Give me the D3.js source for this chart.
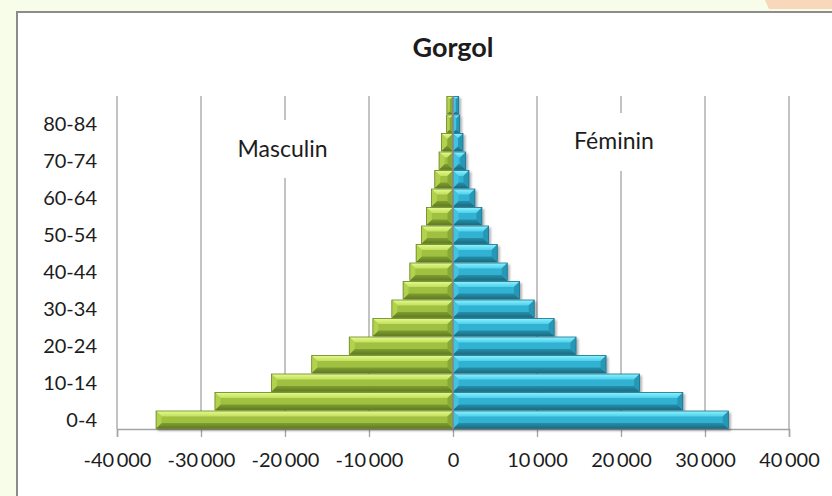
<!DOCTYPE html>
<html>
<head>
<meta charset="utf-8">
<script src="https://cdn.jsdelivr.net/npm/d3@7"></script>
<style>
    html, body { margin: 0; padding: 0; background: #f7fde8; }
    svg { display: block; }
    text { font-family: Lato, "Open Sans", sans-serif; fill: #1c1c1c; }
</style>
</head>
<body>
<div id="chart"></div>
<script>
/*=====================================================================
======================================================================*/
var ageGroups = ["0-4", "5-9", "10-14", "15-19", "20-24", "25-29", "30-34", "35-39", "40-44",
    "45-49", "50-54", "55-59", "60-64", "65-69", "70-74", "75-79", "80-84", "85+"];

var masculin = [-35350, -28340, -21620, -16820, -12350, -9540, -7280, -5940, -5140,
    -4390, -3750, -3160, -2570, -2170, -1660, -1380, -760, -730];

var feminin = [32780, 27360, 22210, 18220, 14650, 12040, 9670, 7920, 6460,
    5270, 4240, 3440, 2610, 1900, 1510, 1190, 800, 680];

var xTicks = [-40000, -30000, -20000, -10000, 0, 10000, 20000, 30000, 40000];
var yTickLabels = ["0-4", "10-14", "20-24", "30-34", "40-44", "50-54", "60-64", "70-74", "80-84"];

var titleText = "Gorgol";
var seriesNames = ["Masculin", "Féminin"];

/**************************************
chart dimensions 
***************************************/
var width = 832,
    height = 496;
var plot = { left: 117, right: 789, top: 96, bottom: 429 };

var gridColor = "#a3a3a3";

// bevel colours for the two series
var palettes = {
    m: { top0: "#e4fb8e", top1: "#c3df5c", face: "#9fc03f", bot0: "#7f9e31", bot1: "#5f7a20",
         left: "#b2d24d", right: "#87a834", edge: "#6a8528" },
    f: { top0: "#8af2ff", top1: "#4fd0ec", face: "#31b2d2", bot0: "#2690ad", bot1: "#1a6a80",
         left: "#42c3e0", right: "#2797b5", edge: "#1f7089" }
};

var fr = d3.formatLocale({ decimal: ",", thousands: "\u2009", grouping: [3], currency: ["", ""], minus: "-" });
var fmt = fr.format(",d");

/*=====================================================================
 svg + background
======================================================================*/
var svg = d3.select("#chart").append("svg")
    .attr("width", width)
    .attr("height", height);

var defs = svg.append("defs");

["m", "f"].forEach(function (k) {
    var p = palettes[k];
    var g1 = defs.append("linearGradient").attr("id", "top-" + k)
        .attr("x1", 0).attr("y1", 0).attr("x2", 0).attr("y2", 1);
    g1.append("stop").attr("offset", "0%").attr("stop-color", p.top0);
    g1.append("stop").attr("offset", "100%").attr("stop-color", p.top1);
    var g2 = defs.append("linearGradient").attr("id", "bot-" + k)
        .attr("x1", 0).attr("y1", 0).attr("x2", 0).attr("y2", 1);
    g2.append("stop").attr("offset", "0%").attr("stop-color", p.bot0);
    g2.append("stop").attr("offset", "100%").attr("stop-color", p.bot1);
});

defs.append("filter").attr("id", "shadow")
    .attr("x", "-10%").attr("y", "-20%").attr("width", "130%").attr("height", "160%")
    .append("feDropShadow")
    .attr("dx", 2).attr("dy", 2).attr("stdDeviation", 1.2)
    .attr("flood-color", "#000").attr("flood-opacity", 0.3);

// peach corner of the page behind
svg.append("path")
    .attr("d", "M765,0 L832,0 L832,9 L769,9 Z")
    .attr("fill", "#f8d7bb");

// chart area with its grey frame
svg.append("rect")
    .attr("x", 17).attr("y", 12)
    .attr("width", width).attr("height", height)
    .attr("fill", "#fff")
    .attr("stroke", "#8c8c8c")
    .attr("stroke-width", 2);

/*=====================================================================
 scales
======================================================================*/
var x = d3.scaleLinear()
    .domain([-40000, 40000])
    .range([plot.left, plot.right]);

var y = d3.scaleBand()
    .domain(ageGroups)
    .range([plot.bottom, plot.top])
    .paddingInner(0);

/*=====================================================================
 gridlines + axes
======================================================================*/
svg.append("g")
    .selectAll("line")
    .data(xTicks)
    .enter().append("line")
    .attr("x1", function (d) { return x(d); })
    .attr("x2", function (d) { return x(d); })
    .attr("y1", plot.top)
    .attr("y2", plot.bottom)
    .attr("stroke", gridColor)
    .attr("stroke-width", 1.3);

var xAxis = svg.append("g")
    .attr("transform", "translate(0," + plot.bottom + ")")
    .call(d3.axisBottom(x).tickValues(xTicks).tickFormat(fmt).tickSize(8).tickPadding(16));

xAxis.select(".domain").attr("stroke", gridColor).attr("stroke-width", 1.5);
xAxis.selectAll(".tick line").attr("stroke", gridColor).attr("stroke-width", 1.3);
xAxis.selectAll(".tick text")
    .attr("font-size", 20)
    .style("font-family", "Lato, 'Open Sans', sans-serif")
    .attr("fill", "#1c1c1c");

// category labels, every other group
svg.append("g")
    .selectAll("text")
    .data(yTickLabels)
    .enter().append("text")
    .attr("x", 97)
    .attr("y", function (d) { return y(d) + y.bandwidth() / 2; })
    .attr("dy", "0.35em")
    .attr("text-anchor", "end")
    .attr("font-size", 20)
    .text(function (d) { return d; });

/*=====================================================================
 bevelled bars
======================================================================*/
function drawBevelBar(g, x0, x1, y0, y1, p, k) {
    var b = Math.min(5.5, (x1 - x0) / 2, (y1 - y0) / 2);
    var poly = function (pts, fill) {
        g.append("polygon")
            .attr("points", pts.map(function (q) { return q.join(","); }).join(" "))
            .attr("fill", fill);
    };
    g.append("rect")
        .attr("x", x0).attr("y", y0)
        .attr("width", x1 - x0).attr("height", y1 - y0)
        .attr("fill", p.face);
    poly([[x0, y0], [x1, y0], [x1 - b, y0 + b], [x0 + b, y0 + b]], "url(#top-" + k + ")");
    poly([[x0, y1], [x1, y1], [x1 - b, y1 - b], [x0 + b, y1 - b]], "url(#bot-" + k + ")");
    poly([[x0, y0], [x0 + b, y0 + b], [x0 + b, y1 - b], [x0, y1]], p.left);
    poly([[x1, y0], [x1 - b, y0 + b], [x1 - b, y1 - b], [x1, y1]], p.right);
    g.append("rect")
        .attr("x", x0).attr("y", y0)
        .attr("width", x1 - x0).attr("height", y1 - y0)
        .attr("fill", "none")
        .attr("stroke", p.edge)
        .attr("stroke-width", 0.8);
}

var bars = svg.append("g").attr("filter", "url(#shadow)");

ageGroups.forEach(function (a, i) {
    var y0 = y(a) + 0.5,
        y1 = y(a) + y.bandwidth() - 0.5;
    drawBevelBar(bars.append("g"), x(masculin[i]), x(0), y0, y1, palettes.m, "m");
    drawBevelBar(bars.append("g"), x(0), x(feminin[i]), y0, y1, palettes.f, "f");
});

// vertical axis at zero, over the bars
svg.append("line")
    .attr("x1", x(0)).attr("x2", x(0))
    .attr("y1", plot.top).attr("y2", plot.bottom)
    .attr("stroke", "#8f8f8f")
    .attr("stroke-width", 1.5);

/*=====================================================================
 series labels (white boxes hide the gridlines behind them)
======================================================================*/
var seriesLabels = [
    { text: seriesNames[0], cx: 282.5, base: 157, box: [228, 120, 337, 178] },
    { text: seriesNames[1], cx: 614, base: 149, box: [566, 113, 662, 171] }
];

seriesLabels.forEach(function (s) {
    svg.append("rect")
        .attr("x", s.box[0]).attr("y", s.box[1])
        .attr("width", s.box[2] - s.box[0]).attr("height", s.box[3] - s.box[1])
        .attr("fill", "#fff");
    svg.append("text")
        .attr("x", s.cx).attr("y", s.base)
        .attr("text-anchor", "middle")
        .attr("font-size", 23)
        .text(s.text);
});

/*=====================================================================
 title
======================================================================*/
svg.append("text")
    .attr("x", 453)
    .attr("y", 57)
    .attr("text-anchor", "middle")
    .attr("font-size", 27)
    .attr("font-weight", "bold")
    .text(titleText);
</script>
</body>
</html>
